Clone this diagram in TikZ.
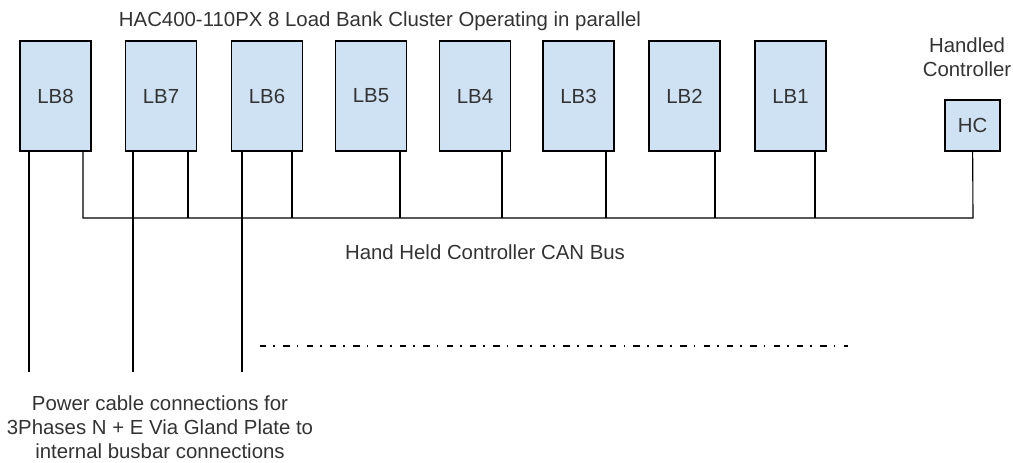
\documentclass[tikz,border=0pt]{standalone}
\usepackage{fontspec}
\setmainfont{Liberation Sans}
\usepackage{tikz}

\definecolor{boxblue}{HTML}{CFE2F3}
\definecolor{txtgray}{HTML}{333333}

\begin{document}
\begin{tikzpicture}[x=0.025cm, y=-0.025cm, font=\fontsize{14.5}{17}\selectfont]
  \tikzstyle{loadbank} = [draw=black, line width=1.1pt, fill=boxblue, minimum width=1.775cm, minimum height=2.75cm, inner sep=0pt, text=txtgray]
  \tikzstyle{controller} = [draw=black, line width=1.1pt, fill=boxblue, minimum width=1.375cm, minimum height=1.275cm, inner sep=0pt, text=txtgray]
  \tikzstyle{caption} = [text=txtgray, align=center, inner sep=0pt]
  \tikzstyle{wire} = [-, line width=0.8pt]
  \tikzstyle{dashdot} = [-, line width=1.2pt, dash pattern=on 4.5pt off 5pt on 1.2pt off 5.9pt]

  \useasboundingbox (0,0) rectangle (1013,462);

  \node[loadbank] (lb8) at (55.5,96) {LB8};
  \node[loadbank] (lb7) at (161,96) {LB7};
  \node[loadbank] (lb6) at (267,96) {LB6};
  \node[loadbank] (lb5) at (371,96) {LB5};
  \node[loadbank] (lb4) at (475,96) {LB4};
  \node[loadbank] (lb3) at (578.5,96) {LB3};
  \node[loadbank] (lb2) at (684.5,96) {LB2};
  \node[loadbank] (lb1) at (790.5,96) {LB1};
  \node[controller] (hc) at (972.5,125.5) {HC};

  \node[caption] (title) at (380,21) {HAC400-110PX 8 Load Bank Cluster Operating in parallel};
  \node[caption] (hclabel) at (967,57) {Handled\\Controller};
  \node[caption] (buslabel) at (485,252) {Hand Held Controller CAN Bus};
  \node[caption] (powerlabel) at (160,427) {Power cable connections for\\3Phases N + E Via Gland Plate to\\internal busbar connections};

  \coordinate (bus8) at (83,218);
  \coordinate (bus7) at (188,218);
  \coordinate (bus6) at (292,218);
  \coordinate (bus5) at (400,218);
  \coordinate (bus4) at (502,218);
  \coordinate (bus3) at (606,218);
  \coordinate (bus2) at (715,218);
  \coordinate (bus1) at (815,218);
  \coordinate (bushc) at (973,218);

  \coordinate (pw8) at (29,372);
  \coordinate (pw7) at (133,372);
  \coordinate (pw6) at (242,372);

  \coordinate (dd1) at (260,346);
  \coordinate (dd2) at (848,346);

  \draw[wire] (bus8 |- lb8.south) -- (bus8) -- (bushc) -- (hc);
  \draw[wire] (bus7 |- lb7.south) -- (bus7);
  \draw[wire] (bus6 |- lb6.south) -- (bus6);
  \draw[wire] (bus5 |- lb5.south) -- (bus5);
  \draw[wire] (bus4 |- lb4.south) -- (bus4);
  \draw[wire] (bus3 |- lb3.south) -- (bus3);
  \draw[wire] (bus2 |- lb2.south) -- (bus2);
  \draw[wire] (bus1 |- lb1.south) -- (bus1);

  \draw[wire] (pw8 |- lb8.south) -- (pw8);
  \draw[wire] (pw7 |- lb7.south) -- (pw7);
  \draw[wire] (pw6 |- lb6.south) -- (pw6);

  \draw[dashdot] (dd1) -- (dd2);
\end{tikzpicture}
\end{document}
